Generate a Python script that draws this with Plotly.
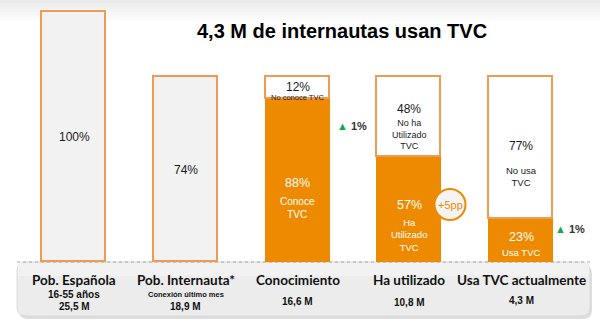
import plotly.graph_objects as go

# ---- data ----
categories = ["Pob. Española", "Pob. Internauta*", "Conocimiento", "Ha utilizado", "Usa TVC actualmente"]
sub_labels = ["16-55 años", "Conexión último mes", "", "", ""]
millions = ["25,5 M", "18,9 M", "16,6 M", "10,8 M", "4,3 M"]
base_pct = [100, 74]              # population bars (% of Spanish population)
internet_pct = 74                 # funnel stages scaled to internet population
yes_pct = [88, 57, 23]            # orange share of stages 3-5
no_pct_labels = [12, 48, 77]      # printed share of the white part
yes_text = ["Conoce<br>TVC", "Ha<br>Utilizado<br>TVC", "Usa TVC"]
no_text = ["No conoce TVC", "No ha<br>Utilizado<br>TVC", "No usa<br>TVC"]
title = "4,3 M de internautas usan TVC"

ORANGE = "#EE8A00"
EDGE = "#EF9A55"
W, H = 600, 331
X0PX, XUNIT = 74, 111.75   # bar centre of first category, px per category
Y0PX, YUNIT = 262, 2.5     # baseline px, px per percent

def dx(px):
    return (px - X0PX) / XUNIT

def dy(py):
    return (Y0PX - py) / YUNIT

xs = list(range(len(categories)))
yes_vals = [internet_pct * p / 100 for p in yes_pct]
no_vals = [internet_pct - v for v in yes_vals]

fig = go.Figure()
bw = 64 / XUNIT
fig.add_bar(x=xs[:2], y=base_pct, width=bw, marker=dict(color="#F2F2F2", line=dict(color=EDGE, width=1.6)),
            hoverinfo="skip")
fig.add_bar(x=xs[2:], y=yes_vals, width=bw, marker=dict(color=ORANGE, line=dict(color=ORANGE, width=1.3)),
            hoverinfo="skip")
fig.add_bar(x=xs[2:], y=no_vals, width=bw, marker=dict(color="white", line=dict(color=EDGE, width=1.6)),
            hoverinfo="skip")

ann = []
def txt(x, y, s, size, color="#1a1a1a", family="Liberation Sans, Arial", **kw):
    ann.append(dict(x=x, y=y, xref="x", yref="y", text=s, showarrow=False,
                    font=dict(size=size, color=color, family=family), **kw))

# population bars
for i, v in enumerate(base_pct):
    txt(xs[i], v / 2, f"{v}%", 12)

# stage bars: label positions (px)
yes_pct_py = [183, 205, 237]
yes_txt_py = [208, 235, 252]
no_pct_py = [87, 109, 146]
no_txt_py = [97, 134, 176]
yes_sizes = [10, 9.5, 9.5]
no_sizes = [7.5, 9, 9.5]
for k in range(3):
    i = xs[2 + k]
    txt(i, dy(yes_pct_py[k]), f"{yes_pct[k]}%", 12.5, color="white")
    txt(i, dy(yes_txt_py[k]), yes_text[k], yes_sizes[k], color="white")
    txt(i, dy(no_pct_py[k]), f"{no_pct_labels[k]}%", 12)
    txt(i, dy(no_txt_py[k]), no_text[k], no_sizes[k])

# growth markers
tri = "<span style='color:#16A84A'>▲</span> <b>1%</b>"
txt(dx(352), dy(125.5), tri, 11, color="#333333")
txt(dx(570), dy(228.5), tri, 11, color="#333333")
txt(dx(450), dy(204.5), "+5pp", 11, color=ORANGE)

# bottom panel text
for i in xs:
    ann.append(dict(x=i, y=dy(280), xref="x", yref="y", text=f"<b>{categories[i]}</b>", showarrow=False,
                    font=dict(size=13.5, color="#111", family="Lato")))
txt(xs[0], dy(294.5), "<b>16-55 años</b>", 10, color="#111")
txt(xs[1], dy(294.5), "<b>Conexión último mes</b>", 7.5, color="#111")
m_py = [306.7, 306.7, 301, 302.3, 300]
for i in xs:
    txt(i, dy(m_py[i]), f"<b>{millions[i]}</b>", 10, color="#111")

# title
ann.append(dict(x=342 / W, y=1 - 18 / H, xref="paper", yref="paper", text=f"<b>{title}</b>",
                showarrow=False, font=dict(size=20, color="black", family="Liberation Sans, Arial")))

shapes = []
# top gradient band
grads = ["#ebebeb", "#eeeeee", "#f1f1f1", "#f4f4f4", "#f7f7f7", "#fafafa", "#fcfcfc"]
for j, c in enumerate(grads):
    shapes.append(dict(type="rect", xref="paper", yref="paper", x0=0, x1=1,
                       y0=1 - (j + 1) * 3 / H, y1=1 - j * 3 / H, fillcolor=c, line=dict(width=0), layer="below"))

def rpath(x0, y0, x1, y1, r):
    def P(x, y):
        return f"{x / W:.5f},{1 - y / H:.5f}"
    return (f"M {P(x0 + r, y0)} L {P(x1 - r, y0)} Q {P(x1, y0)} {P(x1, y0 + r)} "
            f"L {P(x1, y1 - r)} Q {P(x1, y1)} {P(x1 - r, y1)} L {P(x0 + r, y1)} "
            f"Q {P(x0, y1)} {P(x0, y1 - r)} L {P(x0, y0 + r)} Q {P(x0, y0)} {P(x0 + r, y0)} Z")

shapes.append(dict(type="path", xref="paper", yref="paper", path=rpath(19, 265, 592, 319, 9),
                   fillcolor="#d0d0d0", line=dict(width=0), layer="below", opacity=0.7))
shapes.append(dict(type="path", xref="paper", yref="paper", path=rpath(17, 262, 590, 316, 9),
                   fillcolor="#ECECEC", line=dict(color="#d6d6d6", width=0.8), layer="below"))
shapes.append(dict(type="rect", xref="paper", yref="paper", x0=18 / W, x1=589 / W,
                   y0=1 - 276 / H, y1=1 - 263 / H, fillcolor="#F2F2F2", line=dict(width=0), layer="below"))
shapes.append(dict(type="line", xref="paper", yref="paper", x0=17 / W, x1=590 / W,
                   y0=1 - 262 / H, y1=1 - 262 / H, line=dict(color="#a8a8a8", width=1, dash="dot"), layer="below"))
# +5pp circle
shapes.append(dict(type="circle", xref="x", yref="y", xsizemode="pixel", ysizemode="pixel",
                   xanchor=dx(450), yanchor=dy(204.5), x0=-15.5, x1=15.5, y0=-15.5, y1=15.5,
                   fillcolor="#F4F4F4", line=dict(color=ORANGE, width=2)))

fig.update_layout(
    width=W, height=H, margin=dict(l=0, r=0, t=0, b=0),
    paper_bgcolor="white", plot_bgcolor="rgba(0,0,0,0)",
    barmode="stack", showlegend=False, bargap=0,
    xaxis=dict(visible=False, range=[dx(0), dx(W)], fixedrange=True),
    yaxis=dict(visible=False, range=[dy(H), dy(0)], fixedrange=True),
    annotations=ann, shapes=shapes,
)
fig.write_html("out.html")
